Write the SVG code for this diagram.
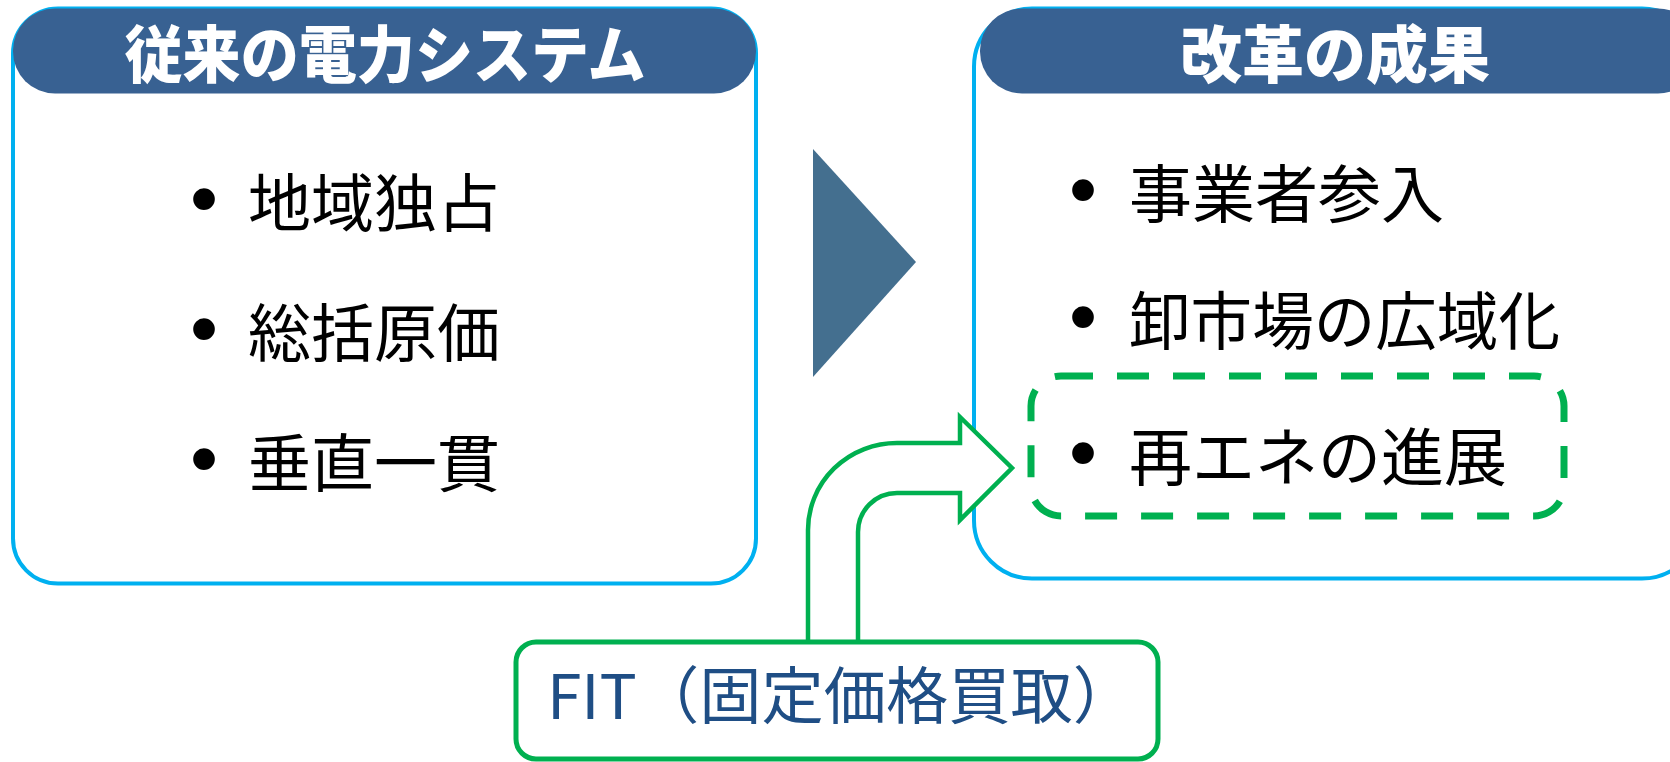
<svg xmlns="http://www.w3.org/2000/svg" width="1670" height="762" viewBox="0 0 1670 762">
<style>
.box{fill:#fff;stroke:#00B0F0;stroke-width:4}
.hdr{fill:#386192}
.htxt{font-family:"Noto Sans CJK JP","Noto Sans CJK SC",sans-serif;font-weight:900;font-size:62px;fill:#fff;text-anchor:middle;dominant-baseline:central}
.item{font-family:"Noto Sans CJK JP","Noto Sans CJK SC",sans-serif;font-size:63px;fill:#000;dominant-baseline:central}
.bul{font-family:"Liberation Sans",sans-serif;font-size:80px;fill:#000;text-anchor:middle;dominant-baseline:central}
.green{fill:#fff;stroke:#00B050;stroke-width:4.5;stroke-linejoin:miter}
.fit{font-family:"Noto Sans CJK JP","Noto Sans CJK SC",sans-serif;font-size:62px;fill:#1F4E85;dominant-baseline:central}
</style>
<rect width="1670" height="762" fill="#fff"/>
<g id="traditional-system">
<rect class="box" x="13" y="8.5" width="743" height="575" rx="45"/>
<rect class="hdr" x="13" y="8.5" width="743" height="85" rx="42"/>
<text class="htxt" x="385" y="51" textLength="521" lengthAdjust="spacingAndGlyphs">従来の電力システム</text>
<text class="bul" x="204" y="198">•</text><text class="item" x="248" y="198">地域独占</text>
<text class="bul" x="204" y="328">•</text><text class="item" x="248" y="328">総括原価</text>
<text class="bul" x="204" y="458">•</text><text class="item" x="248" y="458">垂直一貫</text>
</g>
<g id="transition-arrow">
<polygon points="813,149 916,262 813,377" fill="#446F8F"/>
</g>
<g id="reform-results">
<rect class="box" x="974" y="8.5" width="726" height="570" rx="58"/>
<rect class="hdr" x="980" y="8.5" width="720" height="85" rx="42"/>
<text class="htxt" x="1335" y="51">改革の成果</text>
<text class="bul" x="1083" y="189">•</text><text class="item" x="1129" y="189">事業者参入</text>
<text class="bul" x="1083" y="316">•</text><text class="item" x="1129" y="316" textLength="431" lengthAdjust="spacingAndGlyphs">卸市場の広域化</text>
</g>
<g id="renewables">
<rect x="1031" y="376" width="533" height="140" rx="30" fill="none" stroke="#00B050" stroke-width="7" stroke-dasharray="32 24"/>
<text class="bul" x="1083" y="452">•</text><text class="item" x="1129" y="452">再エネの進展</text>
</g>
<g id="connectors">
<path class="green" d="M808,644 L808,530 A89,87 0 0 1 897,443 L960,443 L960,417 L1012,468 L960,520 L960,493 L897,493 A39,39 0 0 0 858,532 L858,644"/>
</g>
<g id="fit">
<rect x="516" y="642" width="642" height="117" rx="20" fill="#fff" stroke="#00B050" stroke-width="5"/>
<text class="fit" x="547" y="692" textLength="588" lengthAdjust="spacingAndGlyphs">FIT（固定価格買取）</text>
</g>
</svg>
